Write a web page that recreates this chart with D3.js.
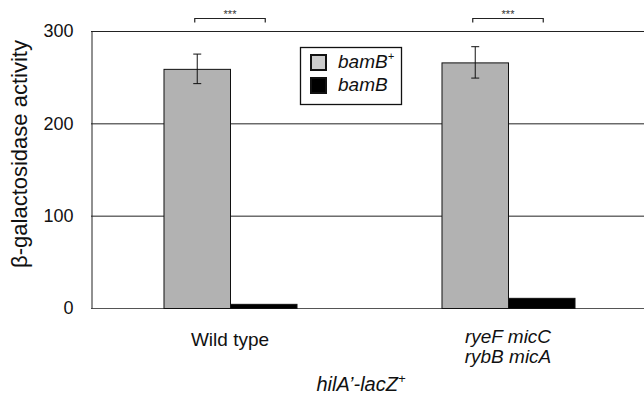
<!DOCTYPE html>
<html>
<head>
<meta charset="utf-8">
<script src="https://cdn.jsdelivr.net/npm/d3@7"></script>
<style>
  body { margin: 0; background: #fff; }
  svg { font-family: "Liberation Sans", Arial, sans-serif; }
</style>
</head>
<body>
<svg id="chart" width="644" height="398"></svg>
<script>
// data
const categories = ["Wild type", "ryeF micC|rybB micA"];
const seriesNames = ["bamB+", "bamB"];
const bamBPlus = [259, 266];
const bamBPlusErr = [16, 17];
const bamBMinus = [4.5, 11];
const yTicks = [0, 100, 200, 300];
const sigLabels = ["***", "***"];

const svg = d3.select("#chart");
const plotLeft = 91, plotTop = 31, plotBottom = 308, plotRight = 647;

const y = d3.scaleLinear().domain([0, 300]).range([plotBottom, plotTop]);
const x0 = d3.scaleBand().domain(categories).range([plotLeft, plotRight]).padding(0);
const x1 = d3.scaleBand().domain(seriesNames).range([0, x0.bandwidth()])
  .paddingInner(0).paddingOuter(1.09);
const fill = { "bamB+": "#b2b2b2", "bamB": "#000" };

const rows = categories.map((c, i) => ({
  cat: c,
  vals: [
    { s: "bamB+", v: bamBPlus[i], e: bamBPlusErr[i] },
    { s: "bamB", v: bamBMinus[i], e: 0 }
  ]
}));

// gridlines
svg.append("g").selectAll("line")
  .data(yTicks.filter(t => t > 0))
  .join("line")
  .attr("x1", plotLeft).attr("x2", 644)
  .attr("y1", d => y(d) + 0.5).attr("y2", d => y(d) + 0.5)
  .attr("stroke", "#222").attr("stroke-width", 1);

// bottom line
svg.append("line")
  .attr("x1", plotLeft).attr("x2", 644)
  .attr("y1", y(0) + 0.5).attr("y2", y(0) + 0.5)
  .attr("stroke", "#555").attr("stroke-width", 1.2);

// y axis
const yAxis = d3.axisLeft(y).tickValues(yTicks).tickSize(0).tickPadding(18);
const ya = svg.append("g").attr("transform", `translate(${plotLeft + 0.5},0)`).call(yAxis);
ya.select(".domain").attr("stroke", "#222");
ya.selectAll("text").attr("font-size", 18).attr("fill", "#111")
  .attr("font-family", "Liberation Sans, Arial, sans-serif");

// bars
const groups = svg.append("g").selectAll("g")
  .data(rows).join("g")
  .attr("transform", d => `translate(${x0(d.cat)},0)`);

groups.selectAll("rect")
  .data(d => d.vals).join("rect")
  .attr("x", d => x1(d.s) + 0.5)
  .attr("y", d => y(d.v) + 0.5)
  .attr("width", x1.bandwidth())
  .attr("height", d => y(0) - y(d.v))
  .attr("fill", d => fill[d.s])
  .attr("stroke", "#111").attr("stroke-width", 1);

// error bars
groups.each(function(d) {
  const g = d3.select(this);
  const v = d.vals[0];
  const cx = x1(v.s) + x1.bandwidth() / 2 + 0.5;
  g.append("line").attr("x1", cx).attr("x2", cx)
    .attr("y1", y(v.v + v.e)).attr("y2", y(v.v - v.e))
    .attr("stroke", "#111");
  [v.v + v.e, v.v - v.e].forEach(t => {
    g.append("line").attr("x1", cx - 4).attr("x2", cx + 4)
      .attr("y1", y(t)).attr("y2", y(t)).attr("stroke", "#111");
  });
});

// significance brackets
rows.forEach((d, i) => {
  const xa = x0(d.cat) + x1("bamB+") + x1.bandwidth() / 2 - 2;
  const xb = x0(d.cat) + x1("bamB") + x1.bandwidth() / 2 + 2;
  const yb = 18.5;
  svg.append("path")
    .attr("d", `M${xa},${yb + 4}V${yb}H${xb}V${yb + 4}`)
    .attr("fill", "none").attr("stroke", "#222").attr("stroke-width", 1.2);
  svg.append("text").attr("x", (xa + xb) / 2).attr("y", yb - 0.5)
    .attr("text-anchor", "middle").attr("font-size", 11).attr("fill", "#333")
    .text(sigLabels[i]);
});

// category labels
rows.forEach(d => {
  const cx = x0(d.cat) + x0.bandwidth() / 2;
  const lines = d.cat.split("|");
  const italic = lines.length > 1;
  const t = svg.append("text").attr("text-anchor", "middle")
    .attr("font-size", 19).attr("fill", "#111")
    .attr("font-style", italic ? "italic" : "normal");
  if (italic) {
    lines.forEach((l, k) => {
      t.append("tspan").attr("x", cx).attr("y", 343 + k * 20).text(l);
    });
  } else {
    t.attr("x", cx).attr("y", 346).text(lines[0]);
  }
});

// bottom title
const bt = svg.append("text").attr("x", 361).attr("y", 391)
  .attr("text-anchor", "middle").attr("font-size", 20).attr("font-style", "italic")
  .attr("fill", "#111");
bt.append("tspan").text("hilA\u2019-lacZ");
bt.append("tspan").attr("font-size", 13).attr("dy", -8).text("+");

// y title
svg.append("text")
  .attr("transform", `translate(27,154) rotate(-90)`)
  .attr("text-anchor", "middle").attr("font-size", 22).attr("fill", "#111")
  .text("\u03b2-galactosidase activity");

// legend
const lg = svg.append("g").attr("transform", "translate(300,47)");
lg.append("rect").attr("x", 0.5).attr("y", 0.5).attr("width", 101).attr("height", 57)
  .attr("fill", "#fff").attr("stroke", "#111").attr("stroke-width", 1.3);
seriesNames.forEach((s, i) => {
  lg.append("rect").attr("x", 11).attr("y", 8 + i * 23).attr("width", 15).attr("height", 15)
    .attr("fill", s === "bamB+" ? "#ccc" : "#000")
    .attr("stroke", "#111").attr("stroke-width", 2);
  const t = lg.append("text").attr("x", 38).attr("y", 21 + i * 23)
    .attr("font-size", 19).attr("font-style", "italic").attr("fill", "#111");
  t.append("tspan").text("bamB");
  if (s.endsWith("+")) t.append("tspan").attr("font-size", 11).attr("dy", -8).text("+");
});
</script>
</body>
</html>
